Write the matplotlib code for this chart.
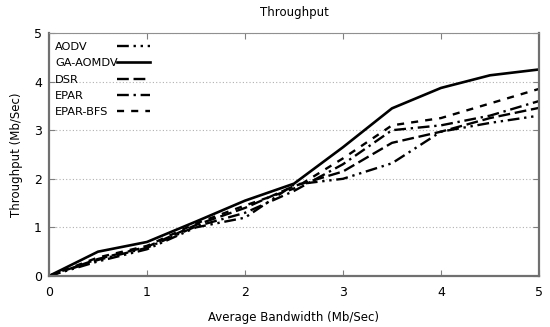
import matplotlib
matplotlib.use('Agg')
import matplotlib.pyplot as plt
from matplotlib.lines import Line2D

bandwidth = [0, 0.5, 1, 1.5, 2, 2.5, 3, 3.5, 4, 4.5, 5]

aodv = [0, 0.30, 0.55, 1.00, 1.20, 1.88, 2.00, 2.32, 2.97, 3.15, 3.30]
ga_aomdv = [0, 0.50, 0.70, 1.12, 1.55, 1.90, 2.65, 3.45, 3.87, 4.13, 4.25]
dsr = [0, 0.35, 0.60, 1.05, 1.40, 1.85, 2.15, 2.74, 2.97, 3.25, 3.46]
epar = [0, 0.33, 0.58, 1.02, 1.30, 1.75, 2.30, 3.00, 3.10, 3.30, 3.60]
epar_bfs = [0, 0.38, 0.62, 1.08, 1.45, 1.80, 2.42, 3.10, 3.25, 3.55, 3.85]

names = ['AODV', 'GA-AOMDV', 'DSR', 'EPAR', 'EPAR-BFS']
styles = [(0, (5, 2, 1, 2, 1, 2)), '-', (0, (5, 2)), (0, (5, 2, 1, 2)), (0, (3, 3))]

fig = plt.figure(figsize=(5.5, 3.27), dpi=100)
ax = fig.add_axes([0.089, 0.156, 0.891, 0.743])

handles = []
for y, name, ls in zip([aodv, ga_aomdv, dsr, epar, epar_bfs], names, styles):
  h, = ax.plot(bandwidth, y, color='black', linestyle=ls, linewidth=1.9 if ls == '-' else 1.7, label=name)
  handles.append(h)

ax.set_xlim(0, 5)
ax.set_ylim(0, 5)
ax.set_xticks(range(6))
ax.set_yticks(range(6))
ax.yaxis.grid(True, linestyle=(0, (1, 2)), color='#b0b0b0', linewidth=0.8)
ax.tick_params(direction='in', top=True, right=True, length=4, color='#808080', labelsize=9)
ax.tick_params(axis='x', pad=7)
ax.tick_params(axis='y', pad=5)
for side in ['left', 'bottom', 'right']:
  ax.spines[side].set_color('#707070')
  ax.spines[side].set_linewidth(1.6)
ax.spines['top'].set_color('#909090')
ax.spines['top'].set_linewidth(0.8)

ax.set_xlabel('Average Bandwidth (Mb/Sec)', fontsize=8.5, labelpad=9)
ax.set_ylabel('Throughput (Mb/Sec)', fontsize=8.5, labelpad=8)
ax.set_title('Throughput', fontsize=8.5, pad=12)

# gnuplot style key: left aligned text, line samples in a column to the right
blank = [Line2D([], [], linestyle='none') for _ in names]
leg_text = ax.legend(blank, names, loc='upper left', bbox_to_anchor=(-0.006, 1.0), frameon=False,
                     fontsize=8.2, handlelength=0, handletextpad=0, labelspacing=0.55, borderpad=0.3)
ax.add_artist(leg_text)
ax.legend(handles, [''] * len(names), loc='upper left', bbox_to_anchor=(0.120, 1.0), frameon=False,
          fontsize=8.2, handlelength=2.9, handletextpad=0, labelspacing=0.55, borderpad=0.3)

fig.savefig('out.png', dpi=100)
